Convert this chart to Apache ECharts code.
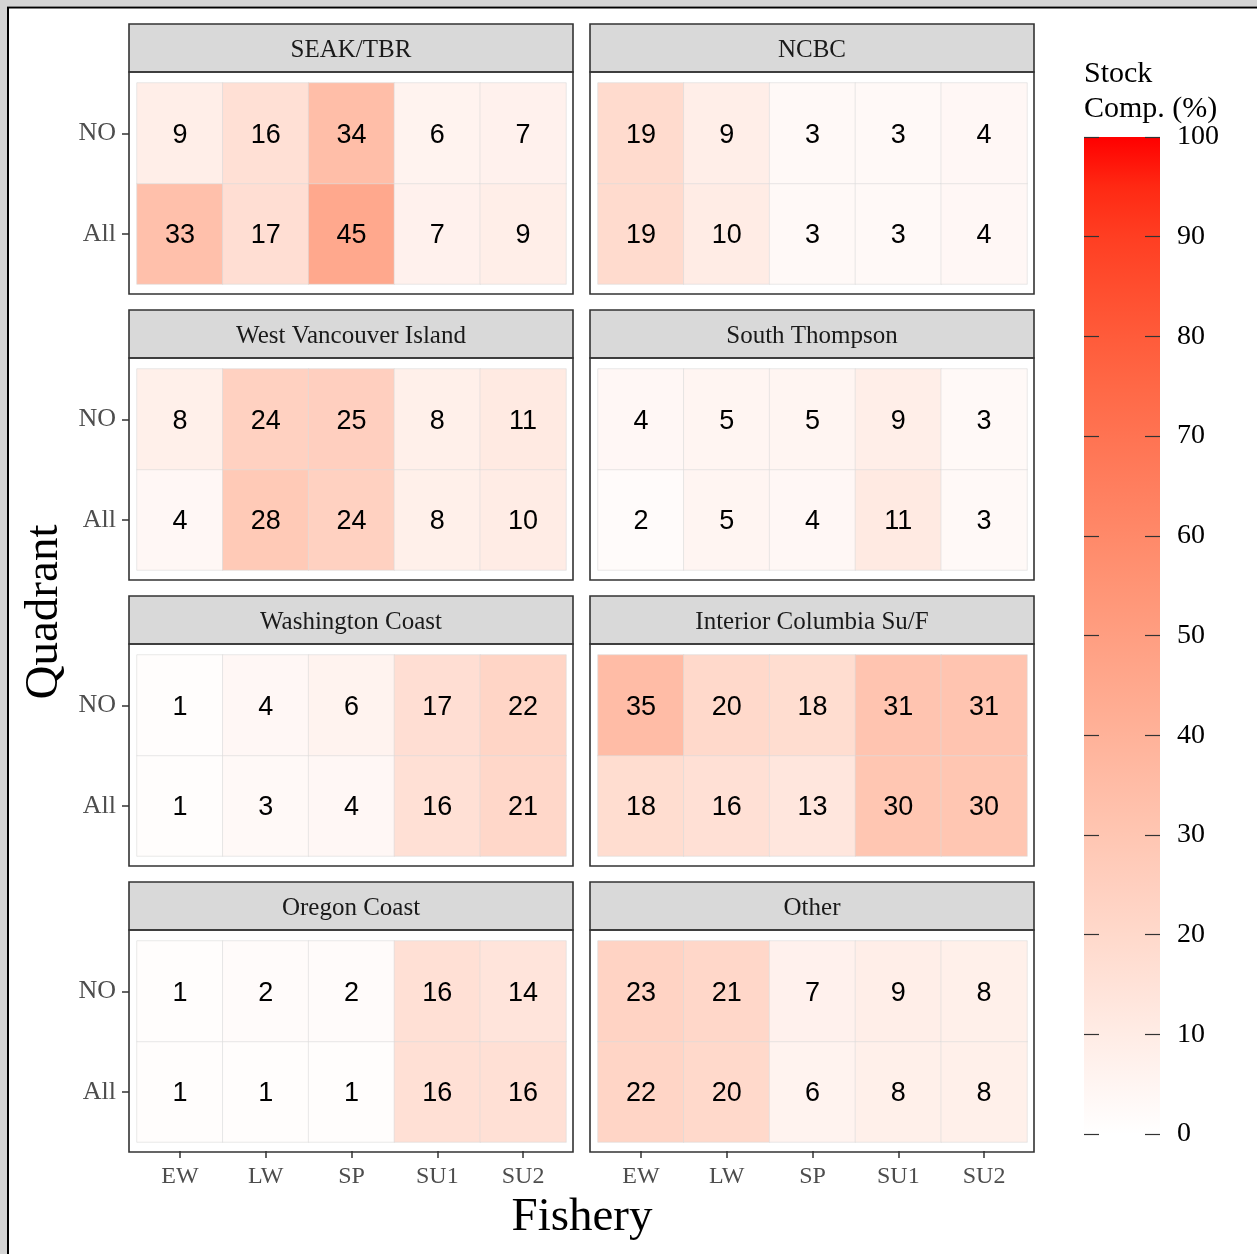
<!DOCTYPE html>
<html>
<head>
<meta charset="utf-8">
<style>
html,body{margin:0;padding:0;background:#fff;}
#chart{width:1257px;height:1254px;}
</style>
<script src="https://cdn.jsdelivr.net/npm/echarts@6/dist/echarts.min.js"></script>
</head>
<body>
<div id="chart"></div>
<script>
// ---- data ----
const fisheries = ['EW', 'LW', 'SP', 'SU1', 'SU2'];
const quadrants = ['All', 'NO'];
const stocks = ['SEAK/TBR', 'NCBC', 'West Vancouver Island', 'South Thompson',
  'Washington Coast', 'Interior Columbia Su/F', 'Oregon Coast', 'Other'];
const noValues = [
  [9, 16, 34, 6, 7],
  [19, 9, 3, 3, 4],
  [8, 24, 25, 8, 11],
  [4, 5, 5, 9, 3],
  [1, 4, 6, 17, 22],
  [35, 20, 18, 31, 31],
  [1, 2, 2, 16, 14],
  [23, 21, 7, 9, 8]
];
const allValues = [
  [33, 17, 45, 7, 9],
  [19, 10, 3, 3, 4],
  [4, 28, 24, 8, 10],
  [2, 5, 4, 11, 3],
  [1, 3, 4, 16, 21],
  [18, 16, 13, 30, 30],
  [1, 1, 1, 16, 16],
  [22, 20, 6, 8, 8]
];
const scaleMin = 0;
const scaleMax = 100;
const scaleTicks = [0, 10, 20, 30, 40, 50, 60, 70, 80, 90, 100];

// ---- colour ramp in Lab (white -> red) ----
function srgbToLin(c){ c/=255; return c<=0.04045? c/12.92 : Math.pow((c+0.055)/1.055,2.4); }
function linToSrgb(c){ let v = c<=0.0031308? 12.92*c : 1.055*Math.pow(c,1/2.4)-0.055; return Math.max(0,Math.min(255,Math.round(v*255))); }
const Xn=0.95047, Yn=1.0, Zn=1.08883;
function f(t){ return t>0.008856? Math.cbrt(t) : 7.787*t+16/116; }
function fi(t){ return t>0.206893? t*t*t : (t-16/116)/7.787; }
function rgb2lab(r,g,b){
  const R=srgbToLin(r),G=srgbToLin(g),B=srgbToLin(b);
  const X=0.4124564*R+0.3575761*G+0.1804375*B;
  const Y=0.2126729*R+0.7151522*G+0.0721750*B;
  const Z=0.0193339*R+0.1191920*G+0.9503041*B;
  const fx=f(X/Xn), fy=f(Y/Yn), fz=f(Z/Zn);
  return [116*fy-16, 500*(fx-fy), 200*(fy-fz)];
}
function lab2rgb(L,a,b){
  const fy=(L+16)/116, fx=fy+a/500, fz=fy-b/200;
  const X=Xn*fi(fx), Y=Yn*fi(fy), Z=Zn*fi(fz);
  const R= 3.2404542*X-1.5371385*Y-0.4985314*Z;
  const G=-0.9692660*X+1.8760108*Y+0.0415560*Z;
  const B= 0.0556434*X-0.2040259*Y+1.0572252*Z;
  return 'rgb('+linToSrgb(R)+','+linToSrgb(G)+','+linToSrgb(B)+')';
}
const labLow = rgb2lab(255,255,255), labHigh = rgb2lab(255,0,0);
const rampColors = [];
const nStops = 21;
for (let i=0;i<nStops;i++){
  const t=i/(nStops-1);
  rampColors.push(lab2rgb(labLow[0]+(labHigh[0]-labLow[0])*t, labLow[1]+(labHigh[1]-labLow[1])*t, labLow[2]+(labHigh[2]-labLow[2])*t));
}

// ---- layout ----
const SERIF = '"Liberation Serif", "Times New Roman", serif';
const SANS = '"Liberation Sans", Arial, sans-serif';
const colLeft = [137, 598];
const rowTop = [83, 369, 655, 941];
const gW = 429, gH = 201;

const grids = [], xAxes = [], yAxes = [], series = [], graphics = [];

// outer frame fragments
graphics.push({type:'rect', shape:{x:0,y:0,width:1257,height:6}, style:{fill:'#d4d4d4'}, z:100});
graphics.push({type:'rect', shape:{x:0,y:0,width:7,height:1254}, style:{fill:'#d4d4d4'}, z:100});
graphics.push({type:'line', shape:{x1:7,y1:7.5,x2:1257,y2:7.5}, style:{stroke:'#000',lineWidth:2}, z:101});
graphics.push({type:'line', shape:{x1:8,y1:7,x2:8,y2:1254}, style:{stroke:'#000',lineWidth:2}, z:101});

stocks.forEach((name, i) => {
  const r = Math.floor(i/2), c = i%2;
  const left = colLeft[c], top = rowTop[r];
  grids.push({left:left, top:top, width:gW, height:gH});
  const isBottom = r === 3, isLeft = c === 0;
  xAxes.push({
    type:'category', gridIndex:i, data:fisheries, position:'bottom', offset:9,
    axisLine:{show:false},
    axisTick:{show:isBottom, alignWithLabel:true, length:7, lineStyle:{color:'#333', width:1.5}},
    axisLabel:{show:isBottom, margin:14, color:'#4d4d4d', fontFamily:SERIF, fontSize:24},
    splitLine:{show:false}
  });
  yAxes.push({
    type:'category', gridIndex:i, data:quadrants, offset:8,
    axisLine:{show:false},
    axisTick:{show:isLeft, alignWithLabel:true, length:7, lineStyle:{color:'#333', width:1.5}},
    axisLabel:{show:isLeft, margin:13, color:'#4d4d4d', fontFamily:SERIF, fontSize:26, padding:[6,0,0,0]},
    splitLine:{show:false}
  });
  const data = [];
  fisheries.forEach((fz, j) => {
    data.push([j, 0, allValues[i][j]]);
    data.push([j, 1, noValues[i][j]]);
  });
  series.push({
    type:'heatmap', xAxisIndex:i, yAxisIndex:i, data:data,
    itemStyle:{borderColor:'#dadada', borderWidth:0.6},
    label:{show:true, formatter:p=>String(p.value[2]), color:'#000', fontFamily:SANS, fontSize:27, offset:[0,2]},
    emphasis:{disabled:true}
  });
  // strip + panel border
  const px = left-8, pw = gW+15;
  graphics.push({type:'rect', shape:{x:px, y:top-59, width:pw, height:48}, style:{fill:'#d9d9d9', stroke:'#333', lineWidth:1.6}, z:50});
  graphics.push({type:'text', x:px+pw/2, y:top-33, style:{text:name, fill:'#1a1a1a', font:'25px '+SERIF, align:'center', verticalAlign:'middle'}, z:51});
  graphics.push({type:'rect', shape:{x:px, y:top-11, width:pw, height:gH+21}, style:{fill:'none', stroke:'#333', lineWidth:1.6}, z:50});
});

// colour bar grid
const cbIndex = stocks.length;
grids.push({left:1084, top:137, width:76, height:997});
xAxes.push({type:'category', gridIndex:cbIndex, data:['bar'], show:false});
yAxes.push({
  type:'value', gridIndex:cbIndex, min:scaleMin, max:scaleMax, interval:10, position:'right', z:10,
  axisLine:{show:false},
  axisTick:{show:true, inside:true, length:15, lineStyle:{color:'#333', width:1.2}},
  axisLabel:{show:true, margin:17, color:'#000', fontFamily:SERIF, fontSize:28, padding:[9,0,0,0],
    formatter:v=>scaleTicks.indexOf(v)>=0?String(v):''},
  splitLine:{show:false}
});
yAxes.push({
  type:'value', gridIndex:cbIndex, min:scaleMin, max:scaleMax, interval:10, position:'left', z:10,
  axisLine:{show:false},
  axisTick:{show:true, inside:true, length:15, lineStyle:{color:'#333', width:1.2}},
  axisLabel:{show:false}, splitLine:{show:false}
});
const gradStops = rampColors.map((col, k) => ({offset:1 - k/(nStops-1), color:col}));
series.push({
  type:'bar', xAxisIndex:cbIndex, yAxisIndex:cbIndex, data:[scaleMax], barWidth:'100%',
  itemStyle:{color:{type:'linear', x:0, y:0, x2:0, y2:1, colorStops:gradStops.slice().sort((a,b)=>a.offset-b.offset)}},
  z:0, zlevel:0, silent:true
});

// titles
graphics.push({type:'text', x:1084, y:74, style:{text:'Stock', fill:'#000', font:'30px '+SERIF, align:'left', verticalAlign:'middle'}, z:60});
graphics.push({type:'text', x:1084, y:109, style:{text:'Comp. (%)', fill:'#000', font:'30px '+SERIF, align:'left', verticalAlign:'middle'}, z:60});
graphics.push({type:'text', x:582, y:1218, style:{text:'Fishery', fill:'#000', font:'47px '+SERIF, align:'center', verticalAlign:'middle'}, z:60});
graphics.push({type:'text', x:45, y:612, rotation:Math.PI/2, style:{text:'Quadrant', fill:'#000', font:'47px '+SERIF, align:'center', verticalAlign:'middle'}, z:60});

const chart = echarts.init(document.getElementById('chart'), null, {renderer:'canvas'});
chart.setOption({
  backgroundColor:'#ffffff',
  animation:false,
  grid:grids, xAxis:xAxes, yAxis:yAxes,
  visualMap:{type:'continuous', show:false, min:scaleMin, max:scaleMax, seriesIndex:stocks.map((s,i)=>i), inRange:{color:rampColors}},
  series:series,
  graphic:graphics
});
</script>
</body>
</html>
